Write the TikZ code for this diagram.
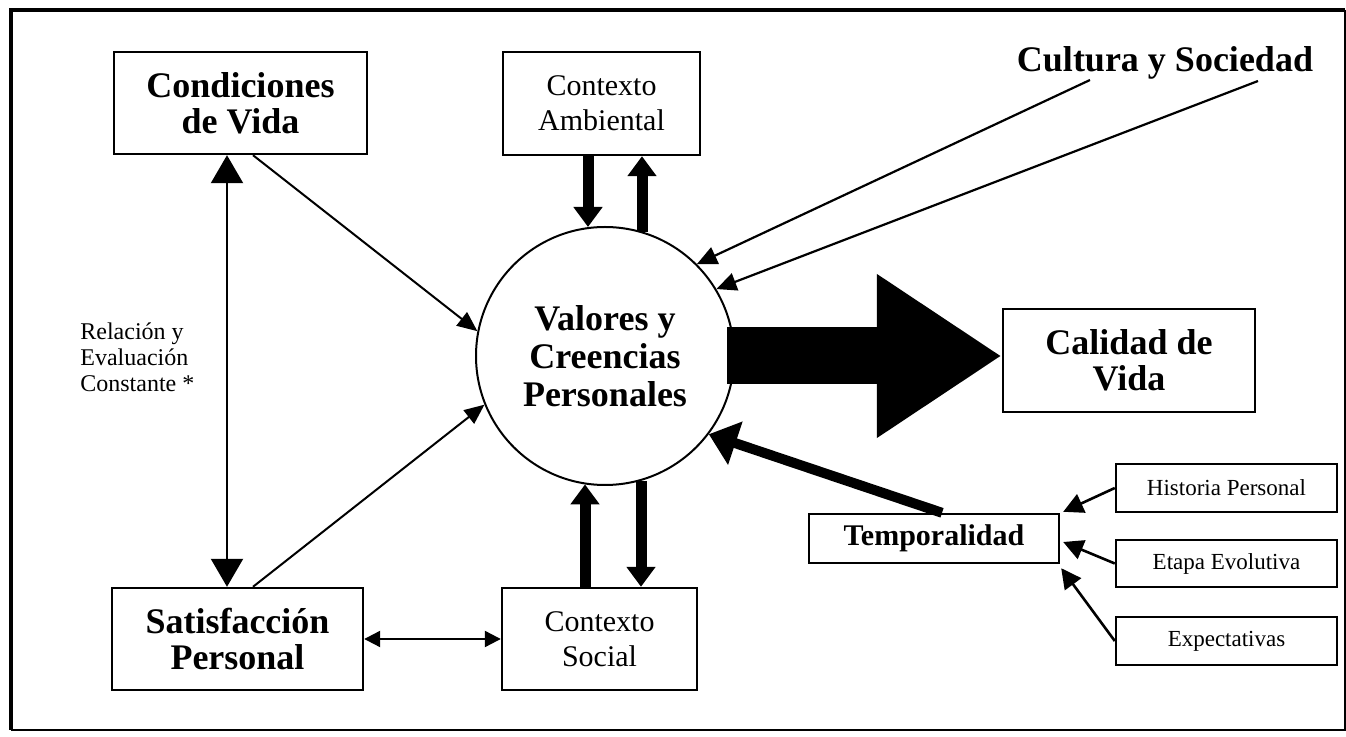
\documentclass[tikz,border=0pt]{standalone}
\usepackage{fontspec}
\setmainfont{Liberation Serif}
\usetikzlibrary{arrows.meta,calc}
\begin{document}
\begin{tikzpicture}[x=0.5pt,y=-0.5pt,
  box/.style={draw,line width=1.2pt,inner sep=0pt,align=center},
  bigtxt/.style={font=\fontsize{18}{18}\selectfont\bfseries},
  midtxt/.style={font=\fontsize{15}{17.5}\selectfont},
  smalltxt/.style={font=\fontsize{11.5}{12}\selectfont},
  thinarr/.style={line width=1pt,-{Triangle[length=10pt,width=8.5pt]}},
  cularr/.style={line width=1.1pt,-{Triangle[length=10pt,width=9pt]}},
  subarr/.style={line width=1.3pt,-{Triangle[length=10pt,width=10pt]}},
  vdouble/.style={line width=1.1pt,{Triangle[length=14pt,width=16pt]}-{Triangle[length=14pt,width=16pt]}},
  hdouble/.style={line width=1.1pt,{Triangle[length=8pt,width=8pt]}-{Triangle[length=8pt,width=8pt]}},
  thickarr/.style={line width=5.5pt,-{Triangle[length=10pt,width=14pt]}},
  temparr/.style={line width=5pt,-{Triangle[length=14pt,width=22pt]}},
  hugearr/.style={line width=28.5pt,-{Triangle[length=62.5pt,width=77.5pt]}}
]
\useasboundingbox (0,0) rectangle (1346,737);

% frame
\draw[line width=2pt] (11,730) -- (11,10) -- (1345,10);
\draw[line width=0.8pt] (1345,10) -- (1345,730) -- (11,730);

% nodes
\node[box,bigtxt,minimum width=126.5pt,minimum height=51pt] (cond) at (240.5,103) {Condiciones\\de Vida};
\node[box,midtxt,minimum width=98.5pt,minimum height=51.5pt] (amb) at (601.5,103.5) {Contexto\\Ambiental};
\node[bigtxt,anchor=base,inner sep=0pt] (cult) at (1165,72) {Cultura y Sociedad};
\node[draw,circle,line width=1pt,minimum size=129pt,inner sep=0pt,align=center,
      font=\fontsize{18}{19}\selectfont\bfseries] (val) at (605,356) {Valores y\\Creencias\\Personales};
\node[box,bigtxt,minimum width=126pt,minimum height=51.5pt] (cal) at (1129,360.5) {Calidad de\\Vida};
\node[box,bigtxt,minimum width=125.5pt,minimum height=51pt] (sat) at (237.5,639) {Satisfacción\\Personal};
\node[box,midtxt,minimum width=97.5pt,minimum height=51pt] (soc) at (599.5,639) {Contexto\\Social};
\node[box,font=\fontsize{15}{15}\selectfont\bfseries,minimum width=125pt,minimum height=24.5pt] (temp) at (934,538.5) {Temporalidad};
\node[box,smalltxt,minimum width=110.5pt,minimum height=24pt] (hist) at (1226.5,488) {Historia Personal};
\node[box,smalltxt,minimum width=110.5pt,minimum height=23.5pt] (etapa) at (1226.5,563.5) {Etapa Evolutiva};
\node[box,smalltxt,minimum width=110.5pt,minimum height=24pt] (expe) at (1226.5,641) {Expectativas};
\node[anchor=north west,inner sep=0pt,align=left,font=\fontsize{12}{13}\selectfont] (rel) at (80,322) {Relación y\\Evaluación\\Constante *};

% connectors
\coordinate (vt) at ($(cond.south)+(-13.5,0)$);
\coordinate (vb) at (vt |- sat.north);
\draw[vdouble] (vt) -- (vb);
\draw[thinarr] ($(cond.south)+(12.5,0)$) -- (val.169);
\draw[thinarr] ($(sat.north)+(15.5,0)$) -- (val.202);
\draw[hdouble] (sat.east) -- (soc.west);

\coordinate (a1) at ($(amb.south)+(-13.5,0)$);
\coordinate (a2) at ($(amb.south)+(40.5,0)$);
\coordinate (s1) at ($(soc.north)+(-14.5,0)$);
\coordinate (s2) at ($(soc.north)+(41.5,0)$);
\draw[thickarr] (a1) -- (a1 |- val.97.6);
\draw[thickarr] (a2 |- val.73.3) -- (a2);
\draw[thickarr] (s1) -- (s1 |- val.261.1);
\draw[thickarr] (s2 |- val.286.2) -- (s2);

\draw[cularr] ($(cult.base)+(-75,8)$) -- (val.45);
\draw[cularr] ($(cult.base)+(93,9)$) -- (val.31);

\draw[hugearr,shorten <=-4pt] (val.east) -- (val.east -| cal.west);

\draw[temparr] ($(temp.north)+(8,0)$) -- (val.-37);

\draw[subarr] (hist.west) -- ($(temp.north east)+(3,-1)$);
\draw[subarr] (etapa.west) -- ($(temp.east)+(3,3.5)$);
\draw[subarr] (expe.west) -- ($(temp.south east)+(1,4)$);
\end{tikzpicture}
\end{document}
